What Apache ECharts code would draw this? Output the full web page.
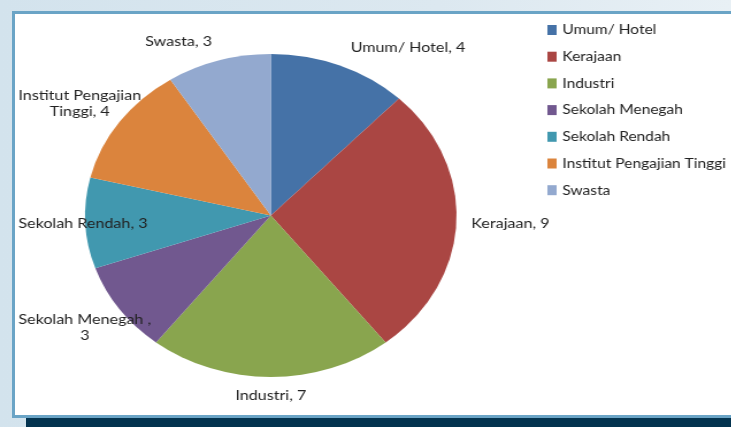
<!DOCTYPE html>
<html>
<head>
<meta charset="utf-8">
<script src="https://cdn.jsdelivr.net/npm/echarts@6/dist/echarts.min.js"></script>
<style>
  html, body { margin: 0; padding: 0; }
  body {
    width: 731px; height: 427px; overflow: hidden; position: relative;
    background: linear-gradient(90deg, #d3e3ed 0%, #dce8f0 60%, #e8f0f5 100%);
  }
  #panel {
    position: absolute; left: 12px; top: 11px; width: 740px; height: 401px;
    background: #fff; border: 3px solid #6aa4c6;
  }
  #bar {
    position: absolute; left: 26px; top: 418px; width: 705px; height: 9px;
    background: #03334f;
  }
  #main {
    position: absolute; left: 0; top: 0; width: 636px; height: 427px;
    transform: scaleX(1.15); transform-origin: 0 0;
  }
</style>
</head>
<body>
<div id="panel"></div>
<div id="bar"></div>
<div id="main"></div>
<script>
var categories = ['Umum/ Hotel', 'Kerajaan', 'Industri', 'Sekolah Menegah', 'Sekolah Rendah', 'Institut Pengajian Tinggi', 'Swasta'];
var values = [4, 9, 7, 3, 3, 4, 3];
var labelTexts = ['Umum/ Hotel, 4', 'Kerajaan, 9', 'Industri, 7', 'Sekolah Menegah ,\n3', 'Sekolah Rendah, 3', 'Institut Pengajian\nTinggi, 4', 'Swasta, 3'];
var colors = ['#4572a7', '#aa4643', '#89a54e', '#71588f', '#4198af', '#db843d', '#93a9cf'];

// per slice label placement (Excel "best fit" look)
var labelLen = [20, 10, 18, 31, 13, 32, 20];
var labelDist = [2, 3, 0, 3, 3, 3, 0];
var edgeAligned = [false, false, false, true, true, true, false];
var centerOnSlice = [false, false, true, false, false, false, false];

var myChart = echarts.init(document.getElementById('main'));
var fontFamily = 'Lato, sans-serif';

var pieData = categories.map(function (name, i) {
    var lbl = {
        formatter: labelTexts[i],
        distanceToLabelLine: labelDist[i]
    };
    if (edgeAligned[i]) {
        lbl.alignTo = 'edge';
        lbl.edgeDistance = 16;
    }
    return {
        name: name,
        value: values[i],
        label: lbl,
        labelLine: { show: false, length: labelLen[i], length2: 0 }
    };
});

var option = {
    animation: false,
    color: colors,
    legend: {
        orient: 'vertical',
        left: 471,
        top: 18,
        itemWidth: 8,
        itemHeight: 10,
        itemGap: 12.7,
        icon: 'rect',
        textStyle: { fontFamily: fontFamily, fontSize: 13.5, lineHeight: 14, color: '#222' },
        data: categories
    },
    series: [
        {
            type: 'pie',
            center: [235.5, 215.5],
            radius: 161.5,
            startAngle: 90,
            clockwise: true,
            avoidLabelOverlap: false,
            label: {
                show: true,
                position: 'outside',
                overflow: 'none',
                fontFamily: fontFamily,
                fontSize: 14,
                lineHeight: 16,
                color: '#222'
            },
            labelLine: { show: false },
            labelLayout: function (p) {
                var r = p.labelRect;
                // bottom label sits centred under the slice, others keep their spot
                var x = centerOnSlice[p.dataIndex] ? r.x : r.x + r.width / 2;
                return { x: x, align: 'center' };
            },
            emphasis: { disabled: true },
            data: pieData
        }
    ]
};
myChart.setOption(option);
</script>
</body>
</html>
